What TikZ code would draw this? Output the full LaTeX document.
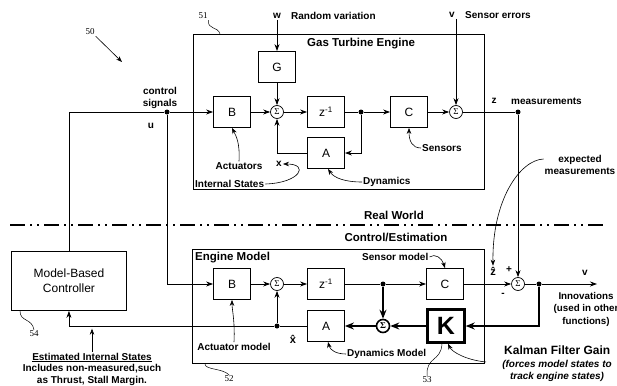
\documentclass[tikz,border=0pt]{standalone}
\usepackage{fontspec}
\setmainfont{Liberation Sans}
\newfontfamily\reffont{Liberation Serif}
\usetikzlibrary{calc,arrows.meta,positioning}

\begin{document}
\begin{tikzpicture}[x=1pt,y=-1pt,
    blk/.style={draw,line width=0.8pt,minimum width=37pt,minimum height=31pt,inner sep=0pt,font=\fontsize{12}{12}\selectfont},
    sumnode/.style={draw,circle,line width=0.7pt,minimum size=13pt,inner sep=0pt,font=\reffont\fontsize{9}{9}\selectfont},
    dotnode/.style={circle,fill,minimum size=5pt,inner sep=0pt},
    lbl/.style={font=\bfseries\fontsize{10}{11.5}\selectfont,inner sep=1pt},
    hdr/.style={font=\bfseries\fontsize{11.5}{12}\selectfont,inner sep=1pt},
    refnum/.style={font=\reffont\fontsize{9}{9}\selectfont,inner sep=1pt},
    sig/.style={-{Stealth[length=7pt,width=5pt]},line width=0.8pt},
    fat/.style={-{Stealth[length=9pt,width=7pt]},line width=1.6pt},
    ptr/.style={-{Stealth[length=6pt,width=4.5pt]},line width=0.6pt},
    squig/.style={line width=0.5pt}]
  \useasboundingbox (0,0) rectangle (617,385);

  % real world
  \node[draw,line width=0.9pt,minimum width=291pt,minimum height=155pt,anchor=north west] (gte) at (193,34) {};
  \node[hdr,anchor=west] (gtetitle) at (306,44) {Gas Turbine Engine};
  \node[blk] (B1) at (232,112) {B};
  \node[sumnode] (S1) at (277,112) {Σ};
  \node[blk] (Z1) at (326,112) {z\textsuperscript{-1}};
  \node[dotnode] (D1) at (361,112) {};
  \node[blk] (C1) at (409,112) {C};
  \node[sumnode] (S2) at (456,112) {Σ};
  \node[dotnode] (Dz) at (518,112) {};
  \node[blk] (G1) at (277,67) {G};
  \node[blk] (A1) at (326,153) {A};
  \node[dotnode] (Du) at (167,112) {};

  \node[lbl] (w) at (277,16) {w};
  \node[lbl,anchor=west] (rv) at (290,16) {Random variation};
  \node[lbl] (v) at (452,15) {v};
  \node[lbl,anchor=west] (se) at (464,15) {Sensor errors};
  \node[lbl,align=center] (cs) at (160,98) {control\\signals};
  \node[lbl] (u) at (151,126) {u};
  \node[lbl] (z) at (494,101) {z};
  \node[lbl,anchor=west] (meas) at (510,101) {measurements};
  \node[lbl,align=center] (expm) at (580,165) {expected\\measurements};
  \node[lbl] (act) at (239,166) {Actuators};
  \node[lbl] (xlab) at (279,164) {x};
  \node[lbl,anchor=west] (ist) at (194,184) {Internal States};
  \node[lbl,anchor=west] (dyn) at (362,182) {Dynamics};
  \node[lbl,anchor=west] (sens) at (421,148) {Sensors};

  \draw[sig] (Du) -- (B1);
  \draw[sig] (B1) -- (S1);
  \draw[sig] (S1) -- (Z1);
  \draw[line width=0.8pt] (Z1) -- (D1);
  \draw[sig] (D1) -- (C1);
  \draw[sig] (C1) -- (S2);
  \draw[line width=0.8pt] (S2) -- (Dz);
  \draw[sig] (w) -- (G1);
  \draw[sig] (G1) -- (S1);
  \draw[sig] (S2 |- v.south) -- (S2);
  \draw[sig] (D1) |- (A1);
  \draw[sig] (A1) -| (S1);
  \draw[ptr] (act.north) .. controls (240,142) and (236,136) .. (B1.south);
  \draw[ptr] (ist.east) .. controls (300,183) and (310,164) .. (xlab.east);
  \draw[ptr] (dyn.west) .. controls (345,182) and (334,178) .. ([xshift=2pt]A1.south);
  \draw[ptr] (sens.west) .. controls (412,148) and (409,141) .. (C1.south);

  % divider
  \coordinate (divl) at (10,225);
  \coordinate (divr) at (603,225);
  \draw[line width=1.3pt,dash pattern=on 15pt off 5pt on 2pt off 5pt on 2pt off 5pt] (divl) -- (divr);
  \node[hdr] (rw) at (394,215) {Real World};
  \node[hdr] (ce) at (396,237) {Control/Estimation};

  % control / estimation
  \node[draw,line width=0.9pt,minimum width=115pt,minimum height=59pt,anchor=north west,align=center,
    font=\fontsize{12}{15}\selectfont] (ctrl) at (11,251) {Model-Based\\Controller};
  \node[draw,line width=0.9pt,minimum width=292pt,minimum height=114pt,anchor=north west] (em) at (192,249) {};
  \node[hdr,anchor=west] (emtitle) at (194,258) {Engine Model};
  \node[blk] (B2) at (232,284) {B};
  \node[sumnode] (S3) at (277,284) {Σ};
  \node[blk] (Z2) at (326,284) {z\textsuperscript{-1}};
  \node[dotnode] (D2) at (383,284) {};
  \node[blk] (C2) at (445,284) {C};
  \node[sumnode] (S4) at (518,284) {Σ};
  \node[dotnode] (Dv) at (539,284) {};
  \coordinate (vend) at (597,284);
  \node[blk] (A2) at (326,326) {A};
  \node[sumnode,line width=1.6pt,font=\reffont\bfseries\fontsize{9}{9}\selectfont] (S5) at (383,326) {Σ};
  \node[blk,line width=2.4pt,minimum height=33pt,font=\bfseries\fontsize{25}{25}\selectfont] (K) at (446,326) {K};
  \node[dotnode] (Dx) at (277,326) {};

  \node[lbl] (am) at (234,347) {Actuator model};
  \node[lbl,font=\bfseries\fontsize{11}{11}\selectfont] (xhat) at (293,339) {x^^^^0302};
  \node[lbl,anchor=west] (dm) at (346,354) {Dynamics Model};
  \node[lbl,anchor=west] (sm) at (361,257) {Sensor model};
  \node[lbl,font=\bfseries\fontsize{11}{11}\selectfont] (zhat) at (493,271) {z^^^^0302};
  \node[lbl] (plus) at (509,270) {+};
  \node[lbl] (minus) at (503,295) {-};
  \node[lbl] (vout) at (585,273) {v};
  \node[font=\bfseries\fontsize{9.8}{12.5}\selectfont,inner sep=1pt,align=center] (inn) at (586,309) {Innovations\\(used in other\\functions)};
  \node[font=\bfseries\fontsize{12}{12}\selectfont,inner sep=1pt,anchor=west] (kfg) at (503,350) {Kalman Filter Gain};
  \node[font=\bfseries\itshape\fontsize{10}{12}\selectfont,inner sep=1pt,align=center] (kfgnote) at (557,371) {(forces model states to\\track engine states)};
  \node[lbl,align=center] (eis) at (92,369) {\underline{Estimated Internal States}\\Includes non-measured,such\\as Thrust, Stall Margin.};
  \coordinate (kfgtail) at (486,362);

  \draw[line width=0.8pt] (Du) -| (ctrl.north);
  \draw[sig] (Du) |- (B2);
  \draw[sig] (Dz) -- (S4);
  \draw[sig] (B2) -- (S3);
  \draw[sig] (S3) -- (Z2);
  \draw[line width=0.8pt] (Z2) -- (D2);
  \draw[sig] (D2) -- (C2);
  \draw[sig] (C2) -- (S4);
  \draw[line width=0.8pt] (S4) -- (Dv);
  \draw[sig] (Dv) -- (vend);
  \draw[fat] (Dv) |- (K);
  \draw[fat] (K) -- (S5);
  \draw[fat] (D2) -- (S5);
  \draw[fat] (S5) -- (A2);
  \draw[line width=0.8pt] (A2) -- (Dx);
  \draw[sig] (Dx) -- (S3);
  \draw[sig] (Dx) -| (ctrl.south);
  \draw[ptr] (eis.north) -- (eis.north |- Dx.south);
  \draw[ptr] (am.north) .. controls (235,320) and (232,310) .. (B2.south);
  \draw[ptr] (dm.west) .. controls (336,354) and (330,350) .. ([xshift=2pt]A2.south);
  \draw[ptr] (sm.east) .. controls (435,253) and (442,258) .. (C2.north);
  \draw[ptr] (kfgtail) .. controls (466,360) and (452,352) .. ([xshift=2pt]K.south);
  \draw[ptr] ([yshift=6pt]expm.west) .. controls (520,160) and (492,200) .. (zhat.north);

  % reference numerals
  \node[refnum] (n50) at (90,32) {50};
  \node[refnum] (n51) at (203,16) {51};
  \node[refnum] (n52) at (229,379) {52};
  \node[refnum] (n53) at (427,380) {53};
  \node[refnum] (n54) at (34,334) {54};
  \coordinate (a50) at (122,62);
  \draw[ptr] (n50.south east) -- (a50);
  \draw[squig] (n51.south east) .. controls (207,30) and (218,26) .. ([xshift=27pt]gte.north west);
  \draw[squig] ([xshift=13pt]em.south west) .. controls (205,370) and (222,368) .. (n52.north);
  \draw[squig] ([xshift=-4pt]K.south) .. controls (441,362) and (426,356) .. (n53.north);
  \draw[squig] ([xshift=9pt]ctrl.south west) .. controls (20,322) and (32,318) .. (n54.north);
\end{tikzpicture}
\end{document}
